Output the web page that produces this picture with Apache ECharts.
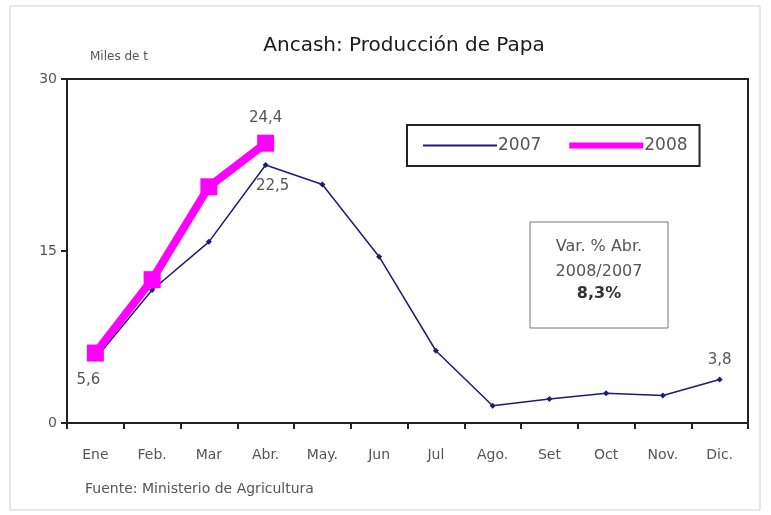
<!DOCTYPE html>
<html lang="es" style="height: 100%">

<head>
    <meta charset="utf-8" />
    <script src="https://cdn.jsdelivr.net/npm/echarts@6/dist/echarts.min.js"></script>
</head>

<body style="height: 100%; margin: 0; background: #fff">
    <div id="container" style="width: 771px;height: 515px;"></div>
    <script type="text/javascript">
        var dom = document.getElementById('container');
        var myChart = echarts.init(dom, null, {
            renderer: 'canvas'
        });

        // meses
        const months = ['Ene', 'Feb.', 'Mar', 'Abr.', 'May.', 'Jun', 'Jul', 'Ago.', 'Set', 'Oct', 'Nov.', 'Dic.'];
        // miles de t
        const data_2007 = [5.6, 11.6, 15.8, 22.5, 20.8, 14.5, 6.3, 1.5, 2.1, 2.6, 2.4, 3.8];
        const data_2008 = [6.1, 12.5, 20.6, 24.4];
        const yTicks = [0, 15, 30];
        const label_2007 = { 0: 'bottom', 3: 'bottom', 11: 'top' };
        const label_2008 = { 3: 'top' };

        const txtColor = '#555';
        const font = 'DejaVu Sans';
        const fmt = v => String(v).replace('.', ',');

        function withLabels(values, where) {
            return values.map(function (v, i) {
                if (!where[i]) return v;
                let off = [0, 0];
                if (i === 3 && where[i] === 'bottom') off = [7, 0];
                if (i === 0) off = [-7, 0];
                return {
                    value: v,
                    label: {
                        show: true,
                        position: where[i],
                        distance: where[i] === 'bottom' ? 11 : 9,
                        offset: off,
                        formatter: fmt(v),
                        color: txtColor,
                        fontSize: 15,
                        fontFamily: font
                    }
                };
            });
        }

        var option = {
            backgroundColor: '#fff',
            animation: false,
            textStyle: { fontFamily: font },
            title: {
                text: 'Ancash: Producción de Papa',
                left: 399,
                textAlign: 'center',
                top: 31,
                textStyle: { fontSize: 20, fontWeight: 'normal', color: '#1a1a1a', fontFamily: font }
            },
            grid: {
                left: 67,
                right: 23,
                top: 79,
                bottom: 92,
                show: true,
                borderColor: '#222',
                borderWidth: 2,
                backgroundColor: 'transparent'
            },
            legend: {
                left: 407,
                top: 125,
                padding: [12, 12, 12, 16],
                itemGap: 28,
                itemWidth: 74,
                itemHeight: 10,
                borderColor: '#222',
                borderWidth: 2,
                textStyle: { color: txtColor, fontSize: 17, fontFamily: font, padding: [0, 0, 0, -4] },
                data: [
                    { name: '2007', icon: 'path://M0,4 L74,4 L74,6 L0,6 Z' },
                    { name: '2008', icon: 'path://M0,2 L74,2 L74,8 L0,8 Z' }
                ]
            },
            xAxis: {
                type: 'category',
                boundaryGap: true,
                data: months,
                axisLine: { lineStyle: { color: '#222', width: 2 } },
                axisTick: { show: true, length: 6, lineStyle: { color: '#222', width: 2 } },
                axisLabel: { color: txtColor, fontSize: 14, margin: 25, fontFamily: font }
            },
            yAxis: {
                type: 'value',
                min: yTicks[0],
                max: yTicks[yTicks.length - 1],
                interval: 15,
                splitLine: { show: false },
                axisLine: { show: true, lineStyle: { color: '#222', width: 2 } },
                axisTick: { show: true, length: 6, lineStyle: { color: '#222', width: 2 } },
                axisLabel: { color: txtColor, fontSize: 14, margin: 10, fontFamily: font }
            },
            series: [{
                    name: '2007',
                    type: 'line',
                    data: withLabels(data_2007, label_2007),
                    color: '#1c1c72',
                    symbol: 'diamond',
                    symbolSize: 6,
                    lineStyle: { width: 1.5, color: '#1c1c72' },
                    itemStyle: { color: '#1c1c72' },
                    z: 2
                },
                {
                    name: '2008',
                    type: 'line',
                    data: withLabels(data_2008, label_2008),
                    color: '#ff00ff',
                    symbol: 'rect',
                    symbolSize: 17,
                    lineStyle: { width: 8, color: '#ff00ff' },
                    itemStyle: { color: '#ff00ff' },
                    z: 3
                }
            ],
            graphic: [{
                    type: 'rect',
                    shape: { x: 10, y: 6, width: 750, height: 504 },
                    style: { fill: 'none', stroke: '#d0d0d0', lineWidth: 1 },
                    silent: true
                },
                {
                    type: 'text',
                    left: 90,
                    top: 51,
                    style: { text: 'Miles de t', fill: txtColor, fontSize: 12, fontFamily: font }
                },
                {
                    type: 'text',
                    left: 85,
                    top: 482,
                    style: { text: 'Fuente: Ministerio de Agricultura', fill: txtColor, fontSize: 14, fontFamily: font }
                },
                {
                    type: 'rect',
                    shape: { x: 530, y: 222, width: 138, height: 106 },
                    style: { fill: '#fff', stroke: '#777', lineWidth: 1 }
                },
                {
                    type: 'text',
                    x: 599,
                    y: 234,
                    style: {
                        text: 'Var. % Abr.\n2008/2007',
                        fill: txtColor,
                        fontSize: 16,
                        lineHeight: 25,
                        align: 'center',
                        fontFamily: font
                    }
                },
                {
                    type: 'text',
                    x: 599,
                    y: 286,
                    style: {
                        text: '8,3%',
                        fill: '#333',
                        fontSize: 16,
                        fontWeight: 'bold',
                        align: 'center',
                        fontFamily: font
                    }
                }
            ]
        };

        if (option && typeof option === 'object') {
            myChart.setOption(option);
        }

        window.addEventListener('resize', myChart.resize);
    </script>
</body>

</html>
